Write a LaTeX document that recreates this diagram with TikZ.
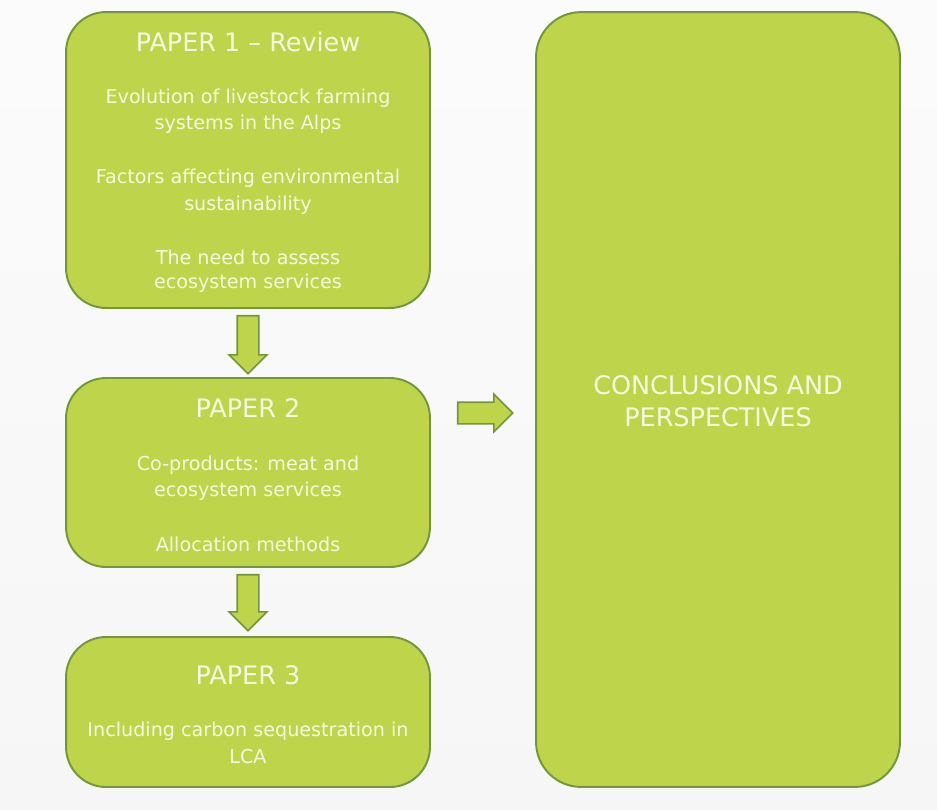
\documentclass[tikz,border=0pt]{standalone}
\usepackage{fontspec}
\setmainfont{DejaVu Sans}
\usetikzlibrary{shapes.arrows,calc}

\definecolor{leaf}{HTML}{BDD44B}
\definecolor{leafedge}{HTML}{74963A}
\definecolor{paletext}{HTML}{F6FAE0}

\tikzset{
  panel/.style={draw=leafedge, fill=leaf, line width=1.1pt, rounded corners=0.8cm},
  blockarrow/.style={single arrow, draw=leafedge, fill=leaf, line width=0.9pt,
    inner xsep=0pt, inner ysep=0.2cm, single arrow head extend=0.16cm,
    single arrow head indent=0pt, anchor=tail},
  title/.style={text=paletext, font=\fontsize{14.5}{16}\selectfont},
  body/.style={text=paletext, font=\fontsize{10.9}{12}\selectfont},
  bigtitle/.style={text=paletext, font=\fontsize{14.5}{17}\selectfont}
}

\begin{document}
\begin{tikzpicture}[x=0.02cm, y=-0.02cm]
    % background
    \shade [top color=white!97!gray, bottom color=white!93!gray] (0, 0) rectangle (937, 809);
    \useasboundingbox (0, 0) rectangle (937, 809);

    % the four panels
    \node [panel, minimum width=7.28cm, minimum height=5.92cm] (p1) at (248, 160) {};
    \node [panel, minimum width=7.28cm, minimum height=3.78cm] (p2) at (248, 472.5) {};
    \node [panel, minimum width=7.28cm, minimum height=3.00cm] (p3) at (248, 712) {};
    \node [panel, minimum width=7.28cm, minimum height=15.5cm, rounded corners=0.9cm] (cp) at (718, 399.5) {};

    % block arrows
    \node [blockarrow, rotate=-90, minimum height=1.16cm] (a12) at ($(p1.south) + (0, 6)$) {};
    \node [blockarrow, rotate=-90, minimum height=1.12cm] (a23) at ($(p2.south) + (0, 6)$) {};
    \node [blockarrow, minimum height=1.10cm] (a2c) at ($(p2.east) + (26, -59.5)$) {};

    % paper 1
    \node [title] (t1) at (248, 42) {PAPER 1 -- Review};
    \node [body] (b11) at (248, 98) {Evolution of livestock farming};
    \node [body] (b12) at (248, 124) {systems in the Alps};
    \node [body] (b13) at (248, 178) {Factors affecting environmental};
    \node [body] (b14) at (248, 205) {sustainability};
    \node [body] (b15) at (248, 257) {The need to assess};
    \node [body] (b16) at (248, 283) {ecosystem services};

    % paper 2
    \node [title] (t2) at (248, 408) {PAPER 2};
    \node [body] (b21) at (248, 465) {Co-products: meat and};
    \node [body] (b22) at (248, 491) {ecosystem services};
    \node [body] (b23) at (248, 544) {Allocation methods};

    % paper 3
    \node [title] (t3) at (248, 675) {PAPER 3};
    \node [body] (b31) at (248, 731) {Including carbon sequestration in};
    \node [body] (b32) at (248, 757) {LCA};

    % conclusions
    \node [bigtitle] (c1) at (718, 385) {CONCLUSIONS AND};
    \node [bigtitle] (c2) at (718, 417) {PERSPECTIVES};
\end{tikzpicture}
\end{document}
